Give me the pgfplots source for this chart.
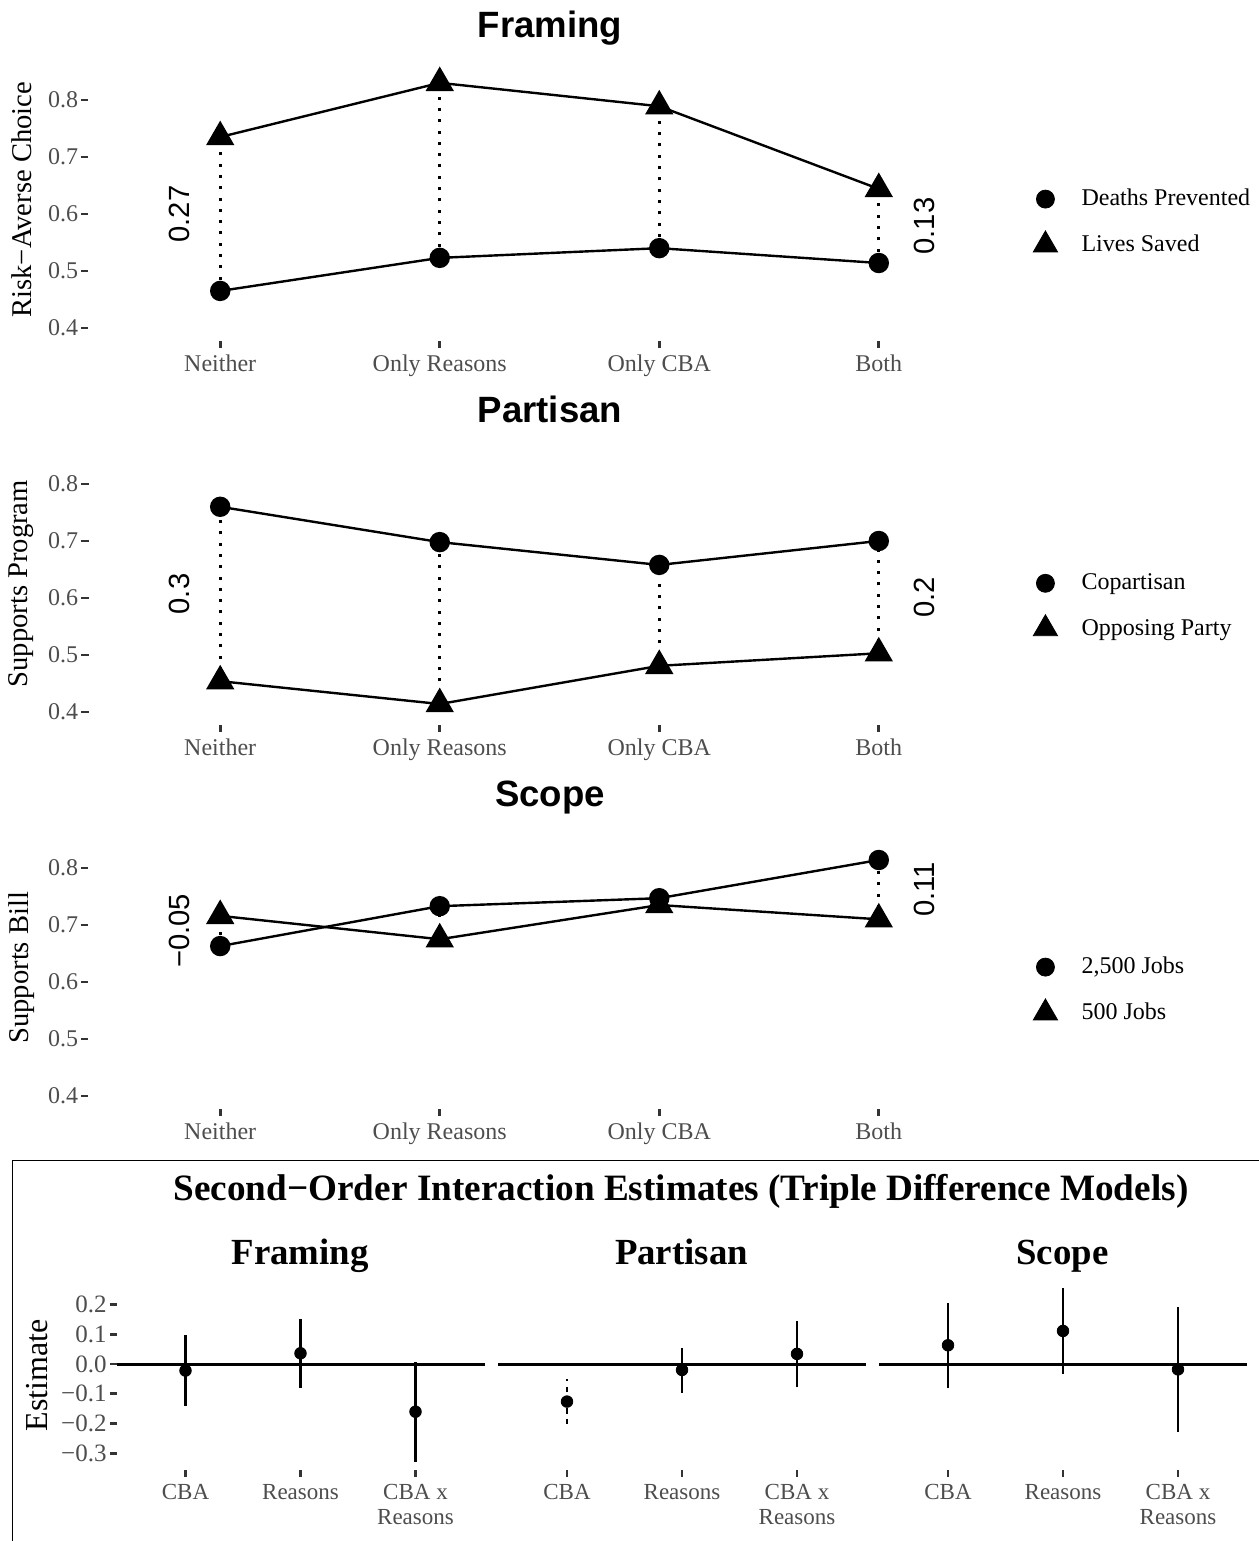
\documentclass[border=0pt]{standalone}
\usepackage{pgfplots}
\pgfplotsset{compat=1.18}
\usepackage{fontspec}
\setmainfont{Liberation Serif}
\newfontfamily\helv{Liberation Sans}
\definecolor{tickgray}{HTML}{4D4D4D}
\definecolor{tickmark}{HTML}{333333}

\pgfplotsset{
 common/.style={
  scale only axis, clip=false,
  axis x line*=bottom, axis y line*=left, axis line style={draw=none},
  tick align=outside,
  major tick style={line width=1.4pt, color=tickmark},
 },
 toppanel/.style={
  common,
  width=461pt, height=141.075pt,
  xmin=0.4, xmax=4.6, ymin=0.3775, ymax=0.8725,
  major tick length=3.5pt,
  xtick={1,2,3,4}, xticklabels={Neither, Only Reasons, Only CBA, Both},
  ytick={0.4,0.5,0.6,0.7,0.8}, yticklabels={0.4,0.5,0.6,0.7,0.8},
  ticklabel style={font=\fontsize{12}{14}\selectfont, text=tickgray},
  yticklabel style={inner xsep=1.5pt},
  every axis y label/.style={at={(rel axis cs:0,0.5)}, xshift=-33.5pt, rotate=90, anchor=center, font=\fontsize{14.3}{16}\selectfont},
  legend cell align=left,
  legend style={at={(1.0243,0.421)}, anchor=west, draw=none, fill=none,
    inner xsep=0pt, inner ysep=0pt, font=\fontsize{12}{14}\selectfont,
    row sep=9pt, nodes={inner xsep=12pt, inner ysep=2pt}},
 },
 botpanel/.style={
  common,
  width=184pt, height=95.36pt,
  xmin=0.4, xmax=3.6, ymin=-0.357, ymax=0.283,
  major tick length=3.3pt,
  xtick={1,2,3}, xticklabels={CBA, Reasons, {CBA x\\Reasons}},
  xticklabel style={align=center, font=\fontsize{11.5}{12.5}\selectfont, text=tickgray},
  yticklabel style={font=\fontsize{12.5}{14}\selectfont, text=tickgray, inner xsep=1.5pt},
  every axis y label/.style={at={(rel axis cs:0,0.5)}, xshift=-39.75pt, rotate=90, anchor=center, font=\fontsize{16}{18}\selectfont},
 },
 conn/.style={black, line width=1.2pt},
 circ/.style={conn, mark=*, mark size=4.5pt, mark options={solid, fill=black}},
 tri/.style={conn, mark=triangle*, mark size=7pt, mark options={solid, fill=black}},
 dots/.style={black, line width=1.5pt, dash pattern=on 1.5pt off 4.15pt, line cap=butt},
 ci/.style={black, line width=1.4pt},
 est/.style={only marks, mark=*, mark size=2.9pt, black},
 zero/.style={black, line width=1.5pt},
}
\newcommand{\difflabel}[1]{\helv\fontsize{14.6}{16}\selectfont #1}

\begin{document}
\begin{tikzpicture}
\path[use as bounding box] (0,0) rectangle (629pt,-770.5pt);

% ---------- Titles (top) ----------
\node[anchor=base, font=\helv\bfseries\fontsize{18.3}{20}\selectfont] at (275pt,-19pt) {Framing};
\node[anchor=base, font=\helv\bfseries\fontsize{18.3}{20}\selectfont] at (275pt,-211pt) {Partisan};
\node[anchor=base, font=\helv\bfseries\fontsize{18.3}{20}\selectfont] at (275pt,-403pt) {Scope};

% ---------- Framing ----------
\begin{axis}[toppanel, at={(44.25pt,-170.4pt)}, anchor=south west, ylabel={Risk−Averse Choice}]
\addlegendimage{only marks, mark=*, mark size=4.5pt, black}
\addlegendimage{only marks, mark=triangle*, mark size=7pt, black}
\legend{Deaths Prevented, Lives Saved}
\addplot[dots] coordinates {(1,0.465) (1,0.735)};
\addplot[dots] coordinates {(2,0.523) (2,0.830)};
\addplot[dots] coordinates {(3,0.540) (3,0.789)};
\addplot[dots] coordinates {(4,0.514) (4,0.644)};
\addplot[circ] coordinates {(1,0.465) (2,0.523) (3,0.540) (4,0.514)};
\addplot[tri] coordinates {(1,0.735) (2,0.830) (3,0.789) (4,0.644)};
\node[rotate=90] at ([xshift=-20.5pt]axis cs:1,0.600) {\difflabel{0.27}};
\node[rotate=90] at ([xshift=23pt]axis cs:4,0.579) {\difflabel{0.13}};
\end{axis}

% ---------- Partisan ----------
\begin{axis}[toppanel, at={(44.25pt,-362.4pt)}, anchor=south west, ylabel={Supports Program}]
\addlegendimage{only marks, mark=*, mark size=4.5pt, black}
\addlegendimage{only marks, mark=triangle*, mark size=7pt, black}
\legend{Copartisan, Opposing Party}
\addplot[dots] coordinates {(1,0.454) (1,0.760)};
\addplot[dots] coordinates {(2,0.414) (2,0.698)};
\addplot[dots] coordinates {(3,0.481) (3,0.658)};
\addplot[dots] coordinates {(4,0.503) (4,0.700)};
\addplot[circ] coordinates {(1,0.760) (2,0.698) (3,0.658) (4,0.700)};
\addplot[tri] coordinates {(1,0.454) (2,0.414) (3,0.481) (4,0.503)};
\node[rotate=90] at ([xshift=-20.5pt]axis cs:1,0.607) {\difflabel{0.3}};
\node[rotate=90] at ([xshift=23pt]axis cs:4,0.601) {\difflabel{0.2}};
\end{axis}

% ---------- Scope ----------
\begin{axis}[toppanel, at={(44.25pt,-554.4pt)}, anchor=south west, ylabel={Supports Bill}]
\addlegendimage{only marks, mark=*, mark size=4.5pt, black}
\addlegendimage{only marks, mark=triangle*, mark size=7pt, black}
\legend{{2,500 Jobs}, {500 Jobs}}
\addplot[dots] coordinates {(1,0.663) (1,0.716)};
\addplot[dots] coordinates {(2,0.675) (2,0.733)};
\addplot[dots] coordinates {(3,0.735) (3,0.747)};
\addplot[dots] coordinates {(4,0.710) (4,0.814)};
\addplot[circ] coordinates {(1,0.663) (2,0.733) (3,0.747) (4,0.814)};
\addplot[tri] coordinates {(1,0.716) (2,0.675) (3,0.735) (4,0.710)};
\node[rotate=90] at ([xshift=-20.5pt]axis cs:1,0.6895) {\difflabel{−0.05}};
\node[rotate=90] at ([xshift=23pt]axis cs:4,0.762) {\difflabel{0.11}};
\end{axis}

% ---------- Bottom box ----------
\draw[line width=0.7pt] (6.25pt,-771pt) -- (6.25pt,-580.25pt) -- (630pt,-580.25pt);
\node[anchor=base, font=\bfseries\fontsize{18.6}{20}\selectfont] at (340.5pt,-600pt) {Second−Order Interaction Estimates (Triple Difference Models)};
\node[anchor=base, font=\bfseries\fontsize{18.4}{20}\selectfont] at (150pt,-632pt) {Framing};
\node[anchor=base, font=\bfseries\fontsize{18.4}{20}\selectfont] at (340.75pt,-632pt) {Partisan};
\node[anchor=base, font=\bfseries\fontsize{18.4}{20}\selectfont] at (531.25pt,-632pt) {Scope};

\begin{axis}[botpanel, at={(58.25pt,-735.2pt)}, anchor=south west, ylabel={Estimate},
  ytick={-0.3,-0.2,-0.1,0,0.1,0.2}, yticklabels={−0.3,−0.2,−0.1,0.0,0.1,0.2}]
\addplot[zero] coordinates {(0.4,0) (3.6,0)};
\addplot[ci] coordinates {(1,-0.140) (1,0.097)};
\addplot[ci] coordinates {(2,-0.079) (2,0.151)};
\addplot[ci] coordinates {(3,-0.328) (3,0.008)};
\addplot[est] coordinates {(1,-0.022) (2,0.036) (3,-0.160)};
\end{axis}

\begin{axis}[botpanel, at={(249pt,-735.2pt)}, anchor=south west, ytick=\empty]
\addplot[zero] coordinates {(0.4,0) (3.6,0)};
\addplot[ci, dash pattern=on 2.6pt off 2.75pt] coordinates {(1,-0.202) (1,-0.050)};
\addplot[ci] coordinates {(2,-0.096) (2,0.053)};
\addplot[ci] coordinates {(3,-0.078) (3,0.143)};
\addplot[est] coordinates {(1,-0.126) (2,-0.020) (3,0.034)};
\end{axis}

\begin{axis}[botpanel, at={(439.5pt,-735.2pt)}, anchor=south west, ytick=\empty]
\addplot[zero] coordinates {(0.4,0) (3.6,0)};
\addplot[ci] coordinates {(1,-0.079) (1,0.204)};
\addplot[ci] coordinates {(2,-0.035) (2,0.254)};
\addplot[ci] coordinates {(3,-0.227) (3,0.190)};
\addplot[est] coordinates {(1,0.063) (2,0.111) (3,-0.018)};
\end{axis}
\end{tikzpicture}
\end{document}
